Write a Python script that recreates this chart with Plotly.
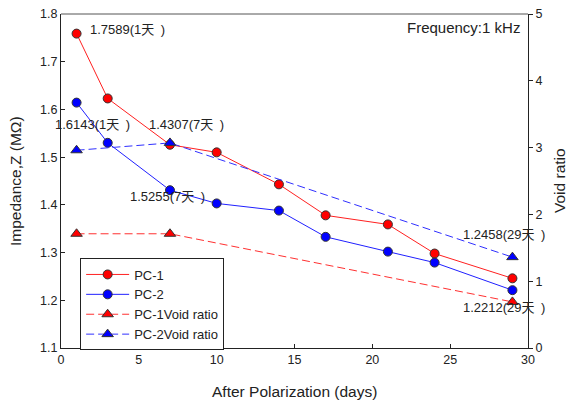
import plotly.graph_objects as go

days = [1, 3, 7, 10, 14, 17, 21, 24, 29]
pc1 = [1.7589, 1.623, 1.526, 1.510, 1.443, 1.378, 1.359, 1.298, 1.246]
pc2 = [1.6143, 1.530, 1.4307, 1.403, 1.388, 1.333, 1.302, 1.279, 1.2212]
void_days = [1, 7, 29]
pc1_void = [1.71, 1.71, 0.69]
pc2_void = [2.96, 3.07, 1.36]

FONT = "Arial, 'Liberation Sans', 'Noto Sans CJK SC', sans-serif"
TXT = "#222222"

fig = go.Figure()
fig.add_trace(go.Scatter(x=days, y=pc1, name="PC-1", mode="lines+markers",
                         line=dict(color="#ff2020", width=1),
                         marker=dict(symbol="circle", size=9, color="red",
                                     line=dict(color="#333333", width=1))))
fig.add_trace(go.Scatter(x=days, y=pc2, name="PC-2", mode="lines+markers",
                         line=dict(color="#2020ff", width=1),
                         marker=dict(symbol="circle", size=9, color="blue",
                                     line=dict(color="#333333", width=1))))
fig.add_trace(go.Scatter(x=void_days, y=pc1_void, name="PC-1Void ratio", mode="lines+markers",
                         yaxis="y2",
                         line=dict(color="#ff3030", width=1, dash="8px,4px"),
                         marker=dict(symbol="triangle-up", size=10, color="red",
                                     line=dict(color="#333333", width=1))))
fig.add_trace(go.Scatter(x=void_days, y=pc2_void, name="PC-2Void ratio", mode="lines+markers",
                         yaxis="y2",
                         line=dict(color="#3030ff", width=1, dash="8px,4px"),
                         marker=dict(symbol="triangle-up", size=10, color="blue",
                                     line=dict(color="#333333", width=1))))

SP = "\u2002"
annots = [
    (1.73, "x", 1.768, f"1.7589(1天{SP})", "left", 13),
    (-0.017, "paper", 1.569, f"1.6143(1天{SP})", "left", 13),
    (5.51, "x", 1.569, f"1.4307(7天{SP})", "left", 13),
    (4.3, "x", 1.418, f"1.5255(7天{SP})", "left", 13),
    (25.7, "x", 1.338, f"1.2458(29天{SP})", "left", 13),
    (25.7, "x", 1.185, f"1.2212(29天{SP})", "left", 13),
    (29.6, "x", 1.772, "Frequency:1 kHz", "right", 15),
]
for x, xr, y, t, anc, fs in annots:
    fig.add_annotation(x=x, xref=xr, y=y, yref="y", text=t, showarrow=False,
                       xanchor=anc, yanchor="middle",
                       font=dict(family=FONT, size=fs, color=TXT))

# axis titles (as annotations for exact placement)
W, H = 569, 403
L, R, T, B = 61, 41, 14, 55
pw, ph = W - L - R, H - T - B
def px(x):
    return (x - L) / pw
def py(y):
    return (H - B - y) / ph
fig.add_annotation(x=0.5, xref="paper", y=py(391), yref="paper",
                   text="After Polarization (days)", showarrow=False,
                   xanchor="center", yanchor="middle",
                   font=dict(family=FONT, size=15.5, color=TXT))
fig.add_annotation(x=px(15), xref="paper", y=0.5, yref="paper",
                   text="Impedance,Z (MΩ)", showarrow=False, textangle=-90,
                   xanchor="center", yanchor="middle",
                   font=dict(family=FONT, size=15.5, color=TXT))
fig.add_annotation(x=px(559), xref="paper", y=0.5, yref="paper",
                   text="Void ratio", showarrow=False, textangle=-90,
                   xanchor="center", yanchor="middle",
                   font=dict(family=FONT, size=15.5, color=TXT))

fig.update_layout(
    width=W, height=H,
    margin=dict(l=L, r=R, t=T, b=B, autoexpand=False),
    paper_bgcolor="white", plot_bgcolor="white",
    font=dict(family=FONT, size=12, color=TXT),
    showlegend=True,
    legend=dict(x=0.041, y=0.268, xanchor="left", yanchor="top",
                bordercolor="#222222", borderwidth=1, bgcolor="white",
                itemwidth=43,
                font=dict(size=13, color=TXT), tracegroupgap=0),
    xaxis=dict(range=[0, 30], tickvals=[0, 5, 10, 15, 20, 25, 30],
               ticks="inside", ticklen=4, tickcolor="#222", showgrid=False, zeroline=False,
               showline=True, linecolor="#222", linewidth=1, automargin=False,
               tickfont=dict(size=12.5)),
    yaxis=dict(range=[1.1, 1.8], tickvals=[1.1, 1.2, 1.3, 1.4, 1.5, 1.6, 1.7, 1.8],
               ticktext=["1.1", "1.2", "1.3", "1.4", "1.5", "1.6", "1.7", "1.8"],
               ticks="inside", ticklen=4, tickcolor="#222", showgrid=False, zeroline=False,
               showline=True, linecolor="#222", linewidth=1, automargin=False,
               tickfont=dict(size=12.5)),
    yaxis2=dict(range=[0, 5], tickvals=[0, 1, 2, 3, 4, 5], overlaying="y", side="right",
                ticks="outside", ticklen=4, tickcolor="#222", showgrid=False, zeroline=False,
                showline=True, linecolor="#222", linewidth=1, automargin=False,
                tickfont=dict(size=12.5)),
    shapes=[dict(type="line", xref="paper", yref="paper", x0=0, x1=1, y0=1, y1=1,
                 line=dict(color="#555", width=1))],
)

fig.write_html("out.html")
